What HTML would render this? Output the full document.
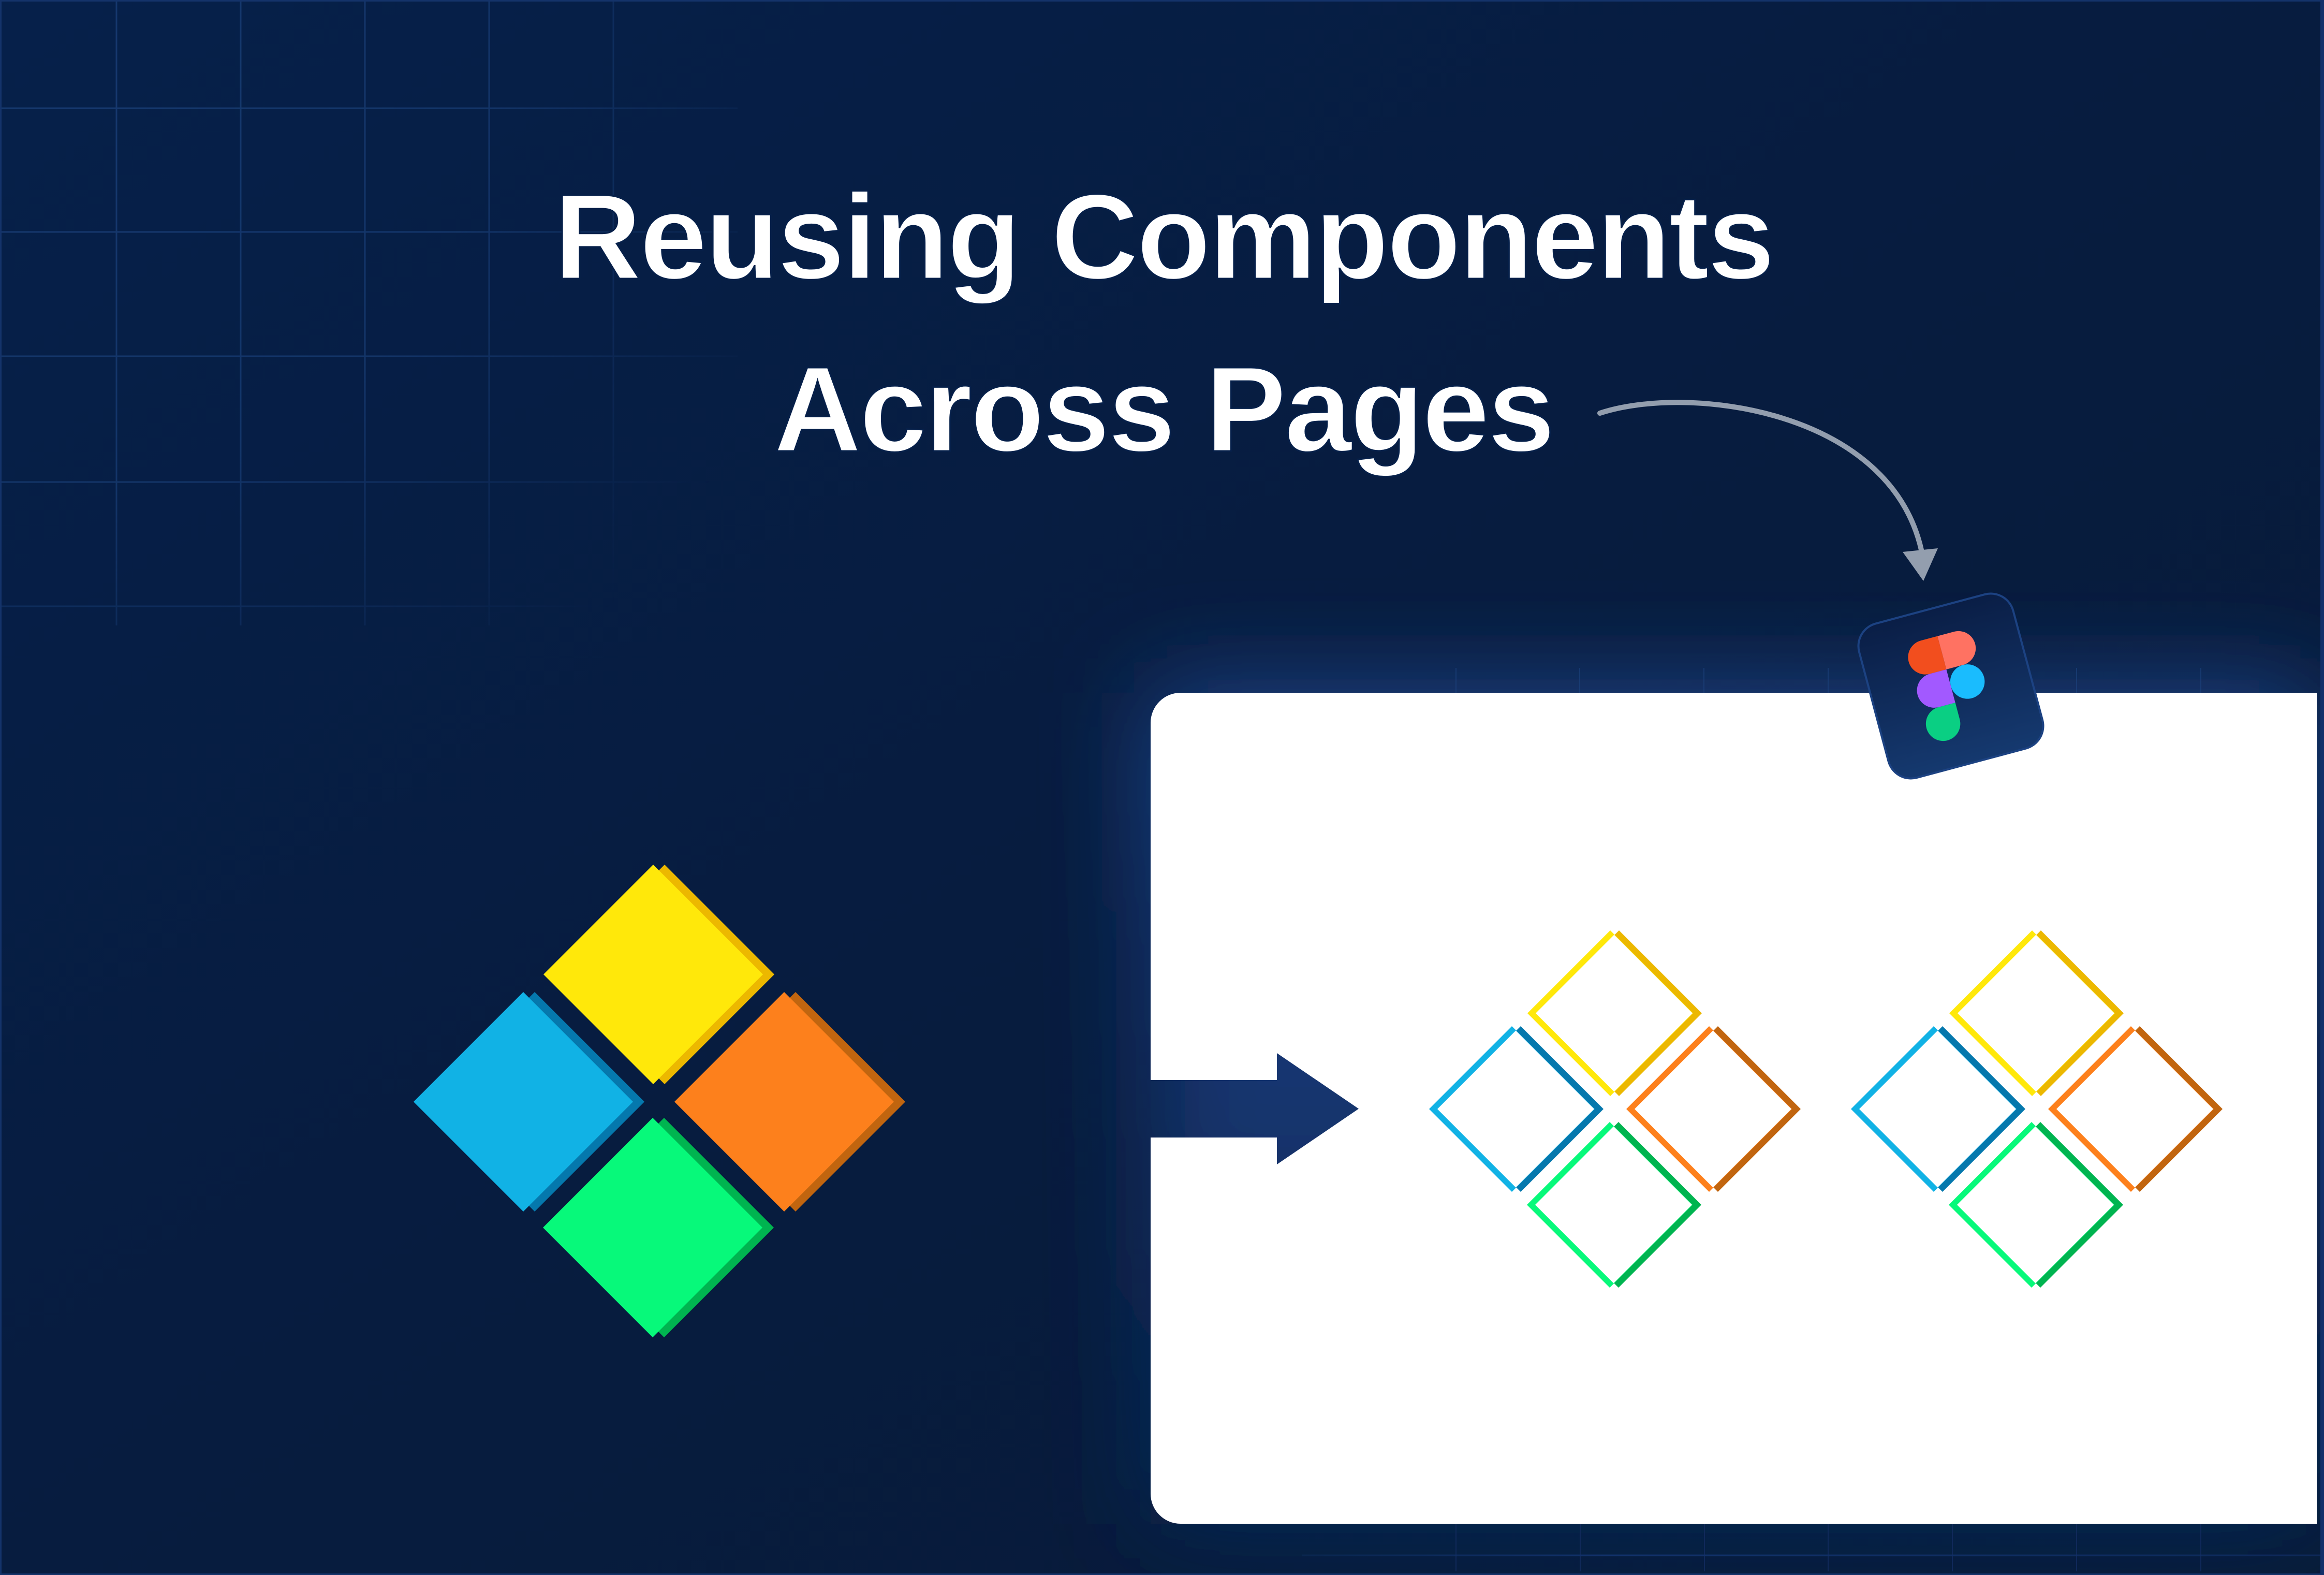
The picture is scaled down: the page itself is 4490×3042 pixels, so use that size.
<!DOCTYPE html>
<html>
<head>
<meta charset="utf-8">
<style>
html,body{margin:0;padding:0;background:#071d41;width:4490px;height:3042px;overflow:hidden;}
svg{display:block}
</style>
</head>
<body>
<svg width="4490" height="3042" viewBox="0 0 4490 3042" xmlns="http://www.w3.org/2000/svg">
<defs>
  <linearGradient id="bg" x1="0" y1="0" x2="1" y2="1">
    <stop offset="0" stop-color="#06204a"/>
    <stop offset="0.5" stop-color="#071c3f"/>
    <stop offset="1" stop-color="#081a37"/>
  </linearGradient>
  <linearGradient id="glowfill" x1="0" y1="0" x2="0" y2="1">
    <stop offset="0" stop-color="#21498f"/>
    <stop offset="0.3" stop-color="#18397a"/>
    <stop offset="0.5" stop-color="#14346d"/>
    <stop offset="1" stop-color="#0f2856"/>
  </linearGradient>
  <filter id="blur" filterUnits="userSpaceOnUse" x="1500" y="700" width="3600" height="2800">
    <feGaussianBlur stdDeviation="100"/>
  </filter>
  <radialGradient id="gridfade" gradientUnits="userSpaceOnUse" cx="150" cy="150" r="1450">
    <stop offset="0" stop-color="#fff" stop-opacity="1"/>
    <stop offset="0.55" stop-color="#fff" stop-opacity="0.85"/>
    <stop offset="1" stop-color="#fff" stop-opacity="0"/>
  </radialGradient>
  <mask id="gm" maskUnits="userSpaceOnUse" x="0" y="0" width="1500" height="1300">
    <rect x="0" y="0" width="1500" height="1300" fill="url(#gridfade)"/>
  </mask>
  <linearGradient id="bfade" gradientUnits="userSpaceOnUse" x1="2516" y1="0" x2="4490" y2="0">
    <stop offset="0" stop-color="#12316a" stop-opacity="0.3"/>
    <stop offset="0.3" stop-color="#12316a" stop-opacity="1"/>
    <stop offset="1" stop-color="#12316a" stop-opacity="0.6"/>
  </linearGradient>
  <linearGradient id="ig" x1="0" y1="0" x2="0" y2="1">
    <stop offset="0" stop-color="#0a1e46"/>
    <stop offset="1" stop-color="#15396f"/>
  </linearGradient>
</defs>

<!-- background -->
<rect x="0" y="0" width="4490" height="3042" fill="url(#bg)"/>

<!-- top-left grid -->
<g mask="url(#gm)" stroke="#16396f" stroke-width="3">
  <line x1="0" y1="209" x2="1425" y2="209"/>
  <line x1="0" y1="448" x2="1425" y2="448"/>
  <line x1="0" y1="688" x2="1425" y2="688"/>
  <line x1="0" y1="931" x2="1425" y2="931"/>
  <line x1="0" y1="1171" x2="1425" y2="1171"/>
  <line x1="225" y1="0" x2="225" y2="1208"/>
  <line x1="465" y1="0" x2="465" y2="1208"/>
  <line x1="705" y1="0" x2="705" y2="1208"/>
  <line x1="945" y1="0" x2="945" y2="1208"/>
  <line x1="1185" y1="0" x2="1185" y2="1208"/>
</g>

<!-- glow behind card -->
<rect x="2223" y="1338" width="2253" height="1605" fill="url(#glowfill)" filter="url(#blur)"/>

<!-- faint grid peeking above the card -->
<g stroke="#1d4480" stroke-width="2" opacity="0.6">
  <line x1="2813" y1="1290" x2="2813" y2="1338"/>
  <line x1="3052" y1="1290" x2="3052" y2="1338"/>
  <line x1="3292" y1="1290" x2="3292" y2="1338"/>
  <line x1="3532" y1="1290" x2="3532" y2="1338"/>
  <line x1="4012" y1="1290" x2="4012" y2="1338"/>
  <line x1="4252" y1="1290" x2="4252" y2="1338"/>
</g>

<!-- bottom grid -->
<g stroke="#10295a" stroke-width="2">
  <line x1="2813" y1="2943" x2="2813" y2="3035"/>
  <line x1="3053" y1="2943" x2="3053" y2="3035"/>
  <line x1="3293" y1="2943" x2="3293" y2="3035"/>
  <line x1="3532" y1="2943" x2="3532" y2="3035"/>
  <line x1="3772" y1="2943" x2="3772" y2="3035"/>
  <line x1="4012" y1="2943" x2="4012" y2="3035"/>
  <line x1="4252" y1="2943" x2="4252" y2="3035"/>
</g>
<line x1="2516" y1="3004" x2="4490" y2="3004" stroke="url(#bfade)" stroke-width="3"/>

<!-- white card with arrow cut-out -->
<path d="M 2281 1338 H 4476 V 2943 H 2281 A 58 58 0 0 1 2223 2885 V 2197 H 2467 V 2249 L 2625 2141.5 L 2467 2034 V 2086 H 2223 V 1396 A 58 58 0 0 1 2281 1338 Z" fill="#ffffff"/>

<!-- frame -->
<rect x="1.5" y="1.5" width="4487" height="3039" fill="none" stroke="#14336a" stroke-width="3"/>
<rect x="4483" y="0" width="7" height="3042" fill="#12306a"/>

<!-- title -->
<g font-family="'Liberation Sans', Arial, sans-serif" font-weight="bold" font-size="234" fill="#ffffff" stroke="#06204a" stroke-width="3" text-anchor="middle" style="letter-spacing:-3.5px">
  <text x="2248" y="538">Reusing Components</text>
  <text x="2248" y="871">Across Pages</text>
</g>

<!-- curved arrow -->
<path d="M 3091 798 C 3260 742, 3650 790, 3712 1062" fill="none" stroke="#939eae" stroke-width="10" stroke-linecap="round"/>
<polygon points="3676,1066 3744,1059 3716,1122" fill="#939eae"/>

<!-- left solid diamonds -->
<polygon points="1284,1670 1496,1882 1284,2094 1072,1882" fill="#ECB800"/>
<polygon points="1262,1670 1474,1882 1262,2094 1050,1882" fill="#FFE80A"/>

<polygon points="1033,1916 1245,2128 1033,2340 821,2128" fill="#0578AD"/>
<polygon points="1011,1916 1223,2128 1011,2340 799,2128" fill="#11B2E5"/>

<polygon points="1537,1916 1749,2128 1537,2340 1325,2128" fill="#C1650F"/>
<polygon points="1515,1916 1727,2128 1515,2340 1303,2128" fill="#FD801C"/>

<polygon points="1283,2159 1495,2371 1283,2583 1071,2371" fill="#00B450"/>
<polygon points="1261,2159 1473,2371 1261,2583 1049,2371" fill="#07F97A"/>

<!-- outline cluster 1 -->
<g transform="translate(3111,1957)">
  <polygon points="17,-160 177,0 17,160 -143,0" fill="#ECB800"/>
  <polygon points="0,-160 160,0 0,160 -160,0" fill="#FFE80A"/>
  <polygon points="7.5,-151.5 159,0 7.5,151.5 -144,0" fill="#ffffff"/>
</g>
<g transform="translate(2921,2142)">
  <polygon points="17,-160 177,0 17,160 -143,0" fill="#0578AD"/>
  <polygon points="0,-160 160,0 0,160 -160,0" fill="#11B2E5"/>
  <polygon points="7.5,-151.5 159,0 7.5,151.5 -144,0" fill="#ffffff"/>
</g>
<g transform="translate(3302,2142)">
  <polygon points="17,-160 177,0 17,160 -143,0" fill="#C1650F"/>
  <polygon points="0,-160 160,0 0,160 -160,0" fill="#FD801C"/>
  <polygon points="7.5,-151.5 159,0 7.5,151.5 -144,0" fill="#ffffff"/>
</g>
<g transform="translate(3110,2327)">
  <polygon points="17,-160 177,0 17,160 -143,0" fill="#00B450"/>
  <polygon points="0,-160 160,0 0,160 -160,0" fill="#07F97A"/>
  <polygon points="7.5,-151.5 159,0 7.5,151.5 -144,0" fill="#ffffff"/>
</g>

<!-- outline cluster 2 -->
<g transform="translate(3926,1957)">
  <polygon points="17,-160 177,0 17,160 -143,0" fill="#ECB800"/>
  <polygon points="0,-160 160,0 0,160 -160,0" fill="#FFE80A"/>
  <polygon points="7.5,-151.5 159,0 7.5,151.5 -144,0" fill="#ffffff"/>
</g>
<g transform="translate(3736,2142)">
  <polygon points="17,-160 177,0 17,160 -143,0" fill="#0578AD"/>
  <polygon points="0,-160 160,0 0,160 -160,0" fill="#11B2E5"/>
  <polygon points="7.5,-151.5 159,0 7.5,151.5 -144,0" fill="#ffffff"/>
</g>
<g transform="translate(4117,2142)">
  <polygon points="17,-160 177,0 17,160 -143,0" fill="#C1650F"/>
  <polygon points="0,-160 160,0 0,160 -160,0" fill="#FD801C"/>
  <polygon points="7.5,-151.5 159,0 7.5,151.5 -144,0" fill="#ffffff"/>
</g>
<g transform="translate(3925,2327)">
  <polygon points="17,-160 177,0 17,160 -143,0" fill="#00B450"/>
  <polygon points="0,-160 160,0 0,160 -160,0" fill="#07F97A"/>
  <polygon points="7.5,-151.5 159,0 7.5,151.5 -144,0" fill="#ffffff"/>
</g>

<!-- figma icon -->
<g transform="translate(3769,1325) rotate(-15)">
  <rect x="-154" y="-154" width="308" height="308" rx="45" ry="45" fill="url(#ig)" stroke="#1c4282" stroke-width="4"/>
  <g transform="scale(3.5) translate(-19,-28.5)">
    <path fill="#1abcfe" d="M19 28.5a9.5 9.5 0 1 1 19 0 9.5 9.5 0 0 1-19 0z"/>
    <path fill="#0acf83" d="M0 47.5A9.5 9.5 0 0 1 9.5 38H19v9.5a9.5 9.5 0 1 1-19 0z"/>
    <path fill="#ff7262" d="M19 0v19h9.5a9.5 9.5 0 1 0 0-19H19z"/>
    <path fill="#f24e1e" d="M0 9.5A9.5 9.5 0 0 0 9.5 19H19V0H9.5A9.5 9.5 0 0 0 0 9.5z"/>
    <path fill="#a259ff" d="M0 28.5A9.5 9.5 0 0 0 9.5 38H19V19H9.5A9.5 9.5 0 0 0 0 28.5z"/>
  </g>
</g>
</svg>
</body>
</html>
